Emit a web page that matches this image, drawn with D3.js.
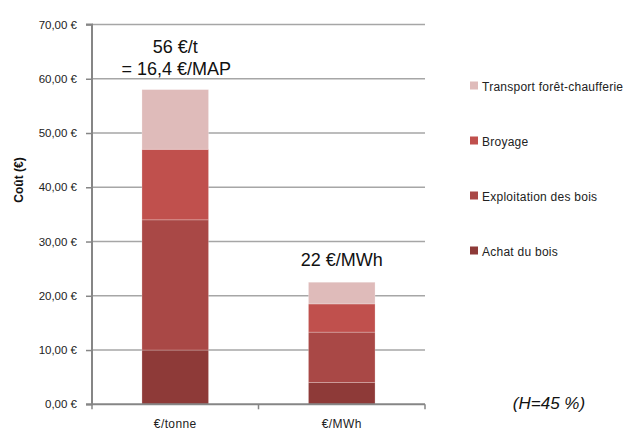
<!DOCTYPE html>
<html>
<head>
<meta charset="utf-8">
<script src="https://cdn.jsdelivr.net/npm/d3@7"></script>
<style>
  body { margin: 0; background: #fff; }
  svg { display: block; font-family: "Liberation Sans", Arial, sans-serif; }
</style>
</head>
<body>
<svg id="chart" width="628" height="433"></svg>
<script>
// Categories (x axis) and cost components stacked bottom to top
const categories = ["€/tonne", "€/MWh"];
const seriesNames = ["Achat du bois", "Exploitation des bois", "Broyage", "Transport forêt-chaufferie"];
const achat = [10, 4.0];
const exploitation = [24, 9.3];
const broyage = [13, 5.2];
const transport = [11, 4.0];
const seriesColors = ["#8E3A38", "#A94846", "#C0504D", "#DFBBBA"];
const yTicks = [0, 10, 20, 30, 40, 50, 60, 70];
const barNotes = [["56 €/t", "= 16,4 €/MAP"], ["22 €/MWh"]];

const svg = d3.select("#chart");
const plot = { left: 92, right: 425, top: 24.5, bottom: 404.3 };

const x = d3.scaleBand().domain(categories).range([plot.left, plot.right]).paddingInner(0.6).paddingOuter(0.3);
const xBand = d3.scaleBand().domain(categories).range([plot.left, plot.right]);
const y = d3.scaleLinear().domain([0, 70]).range([plot.bottom, plot.top]);

const fmt = v => d3.format(".2f")(v).replace(".", ",") + " €";

// Horizontal gridlines
svg.append("g").selectAll("line").data(yTicks.filter(d => d > 0)).join("line")
  .attr("x1", plot.left).attr("x2", plot.right)
  .attr("y1", d => y(d)).attr("y2", d => y(d))
  .attr("stroke", "#A6A6A6").attr("stroke-width", 1.5);

// Stacked bars
const rows = categories.map((c, i) => ({
  cat: c,
  "Achat du bois": achat[i],
  "Exploitation des bois": exploitation[i],
  "Broyage": broyage[i],
  "Transport forêt-chaufferie": transport[i]
}));
const stacked = d3.stack().keys(seriesNames)(rows);
svg.append("g").selectAll("g").data(stacked).join("g")
  .attr("fill", (d, i) => seriesColors[i])
  .selectAll("rect").data(d => d).join("rect")
  .attr("x", d => x(d.data.cat))
  .attr("width", x.bandwidth())
  .attr("y", d => y(d[1]))
  .attr("height", d => y(d[0]) - y(d[1]))
  .attr("stroke", "rgba(255,255,255,0.3)")
  .attr("stroke-width", 0.8);

// Y axis
const yAxis = d3.axisLeft(y).tickValues(yTicks).tickSize(6).tickPadding(9).tickFormat(fmt);
const gy = svg.append("g").attr("transform", `translate(${plot.left},0)`).call(yAxis);
gy.select(".domain").attr("stroke", "#868686").attr("stroke-width", 2).attr("d", `M-6,${plot.top}H0V${plot.bottom}H-6`);
gy.selectAll(".tick line").attr("stroke", "#868686").attr("stroke-width", 1.5);
gy.selectAll(".tick text").attr("font-size", 11.5).attr("fill", "#222");

// X axis
const xAxis = d3.axisBottom(x).tickSize(0).tickPadding(13);
const gx = svg.append("g").attr("transform", `translate(0,${plot.bottom})`).call(xAxis);
gx.select(".domain").attr("stroke", "#868686").attr("stroke-width", 2).attr("d", `M${plot.left},0H${plot.right}`);
gx.selectAll(".tick text").attr("font-size", 12).attr("letter-spacing", 0.4).attr("fill", "#222").attr("dy", "0.9em");
svg.append("g").selectAll("line")
  .data([categories[0], categories[1], null])
  .join("line")
  .attr("x1", d => d === null ? plot.right : xBand(d))
  .attr("x2", d => d === null ? plot.right : xBand(d))
  .attr("y1", plot.bottom).attr("y2", plot.bottom + 5)
  .attr("stroke", "#868686").attr("stroke-width", 1.5);

// Y axis title
svg.append("text")
  .attr("transform", "translate(23,180) rotate(-90)")
  .attr("text-anchor", "middle")
  .attr("font-size", 12).attr("font-weight", "bold").attr("fill", "#111")
  .text("Coût (€)");

// Notes above bars
const totals = rows.map(r => d3.sum(seriesNames, k => r[k]));
barNotes.forEach((lines, i) => {
  const cx = x(categories[i]) + x.bandwidth() / 2;
  const t = svg.append("text")
    .attr("text-anchor", "middle").attr("font-size", 18).attr("fill", "#111");
  const baseY = i === 0 ? 53 : y(totals[i]) - 16;
  lines.forEach((line, j) => {
    t.append("tspan").attr("x", cx + (i === 0 && j === 1 ? 1 : 0)).attr("y", baseY + j * 22).text(line);
  });
});

// Legend (top entry is the top of the stack)
const legendRows = seriesNames.map((n, i) => ({ name: n, color: seriesColors[i] })).reverse();
const lg = svg.append("g").selectAll("g").data(legendRows).join("g")
  .attr("transform", (d, i) => `translate(470,${86 + i * 55})`);
lg.append("rect").attr("x", 0).attr("y", -4.5).attr("width", 8).attr("height", 8).attr("fill", d => d.color);
lg.append("text").attr("x", 12).attr("y", 4.5).attr("font-size", 12).attr("letter-spacing", 0.25)
  .attr("fill", "#222").text(d => d.name);

// Moisture note
svg.append("text")
  .attr("x", 549).attr("y", 409).attr("text-anchor", "middle")
  .attr("font-size", 17).attr("font-style", "italic").attr("fill", "#111")
  .text("(H=45 %)");
</script>
</body>
</html>
